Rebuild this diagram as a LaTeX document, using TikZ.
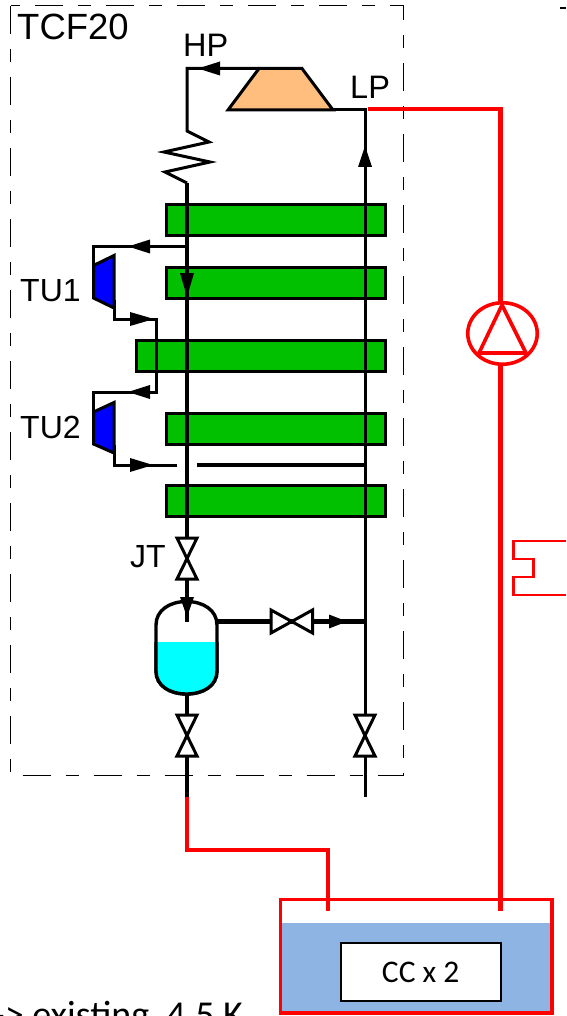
\documentclass[tikz,border=0pt]{standalone}
\usepackage{fontspec}
\setmainfont{Liberation Sans}
\newfontfamily\calib{Carlito}
\usetikzlibrary{arrows.meta,shapes.geometric}
\definecolor{hxgreen}{HTML}{00C000}
\definecolor{compfill}{HTML}{FFBE7D}
\definecolor{bath}{HTML}{8EB4E3}
\definecolor{pipered}{HTML}{FF0000}
\definecolor{liquid}{HTML}{00FFFF}
\definecolor{turbblue}{HTML}{0000FF}
\tikzset{
  x=1pt,y=-1pt,
  hx/.style={draw=black,line width=3pt,fill=hxgreen,outer sep=0pt,inner sep=0pt,anchor=north west,minimum height=31pt,minimum width=218.5pt},
  thin pipe/.style={draw=black,line width=3pt},
  thick pipe/.style={draw=black,line width=4.6pt},
  red pipe/.style={draw=pipered,line width=4.6pt},
  red thin/.style={draw=pipered,line width=3.6pt},
  valve/.style={draw=black,line width=3pt,fill=white,line join=miter},
  turbine/.style={draw=black,line width=3pt,fill=turbblue,line join=miter},
  head/.style={fill=black,draw=none},
  lbl/.style={inner sep=0pt,text=black},
}
\newcommand{\bowV}[2]{\draw[valve] (#1-10,#2-21) -- (#1+10,#2-21) -- (#1-10,#2+20) -- (#1+10,#2+20) -- cycle;}
\newcommand{\vesselpath}{(156,625) .. controls (156,610) and (170,601.5) .. (186.5,601.5) .. controls (203,601.5) and (217,610) .. (217,625) -- (217,671) .. controls (217,686) and (203,694) .. (186.5,694) .. controls (170,694) and (156,686) .. (156,671) -- cycle}
\begin{document}
\begin{tikzpicture}
\useasboundingbox (0,0) rectangle (566,1016);
\clip (0,0) rectangle (566,1016);
% frame
\draw[black,line width=1pt,dash pattern=on 28pt off 15pt on 13pt off 15pt] (10.5,6) rectangle (403.5,775);
% tank
\fill[bath] (280,923) rectangle (552,1013);
\draw[red thin] (280.5,899.5) rectangle (552,1013);
\node[draw=black,line width=2pt,fill=white,minimum width=160pt,minimum height=58pt,inner sep=0pt,outer sep=0pt,font=\calib\fontsize{31.5}{31.5}\selectfont] (cc) at (420.7,972) {CC x 2};
% named points
\coordinate (lpend) at (365,797);
\coordinate (lptop) at (365,110);
\coordinate (compbr) at (333,110);
\coordinate (hpc) at (187,68.5);
\coordinate (comptl) at (259,68.5);
% bars
\node[hx] (b1) at (166.5,204.5) {};
\node[hx] (b2) at (166.5,267.5) {};
\node[hx,minimum width=249pt] (b3) at (136,340.5) {};
\node[hx] (b4) at (166.5,413.5) {};
\node[hx] (b5) at (166.5,485.5) {};
% pipes
\draw[thin pipe] (compbr) -- (lptop) -- (lpend);
\draw[thin pipe,line join=miter,miter limit=6] (comptl) -- (hpc) -- (187,131) -- (209,142) -- (164,152) -- (210,162) -- (165,172) -- (187,183);
\draw[thick pipe] (187,183) -- (187,797);
\draw[thin pipe] (187,246.5) -- (93,246.5) -- (93,275);
\draw[thin pipe] (114,300) -- (114,319) -- (156,319) -- (156,392) -- (93,392) -- (93,420);
\draw[thin pipe] (114,445) -- (114,465) -- (177,465);
\draw[thick pipe] (197,465) -- (365,465);
\draw[thick pipe] (218,621.5) -- (365,621.5);
% compressor
\draw[draw=black,line width=3pt,fill=compfill,line join=miter] (259,68.5) -- (302,68.5) -- (333,110) -- (228,110) -- cycle;
% turbines
\draw[turbine] (93.5,265.5) -- (114,255.5) -- (114,308) -- (93.5,298) -- cycle;
\draw[turbine] (93.5,412) -- (114,402.5) -- (114,453) -- (93.5,444) -- cycle;
% vessel
\draw[black,line width=3.4pt,fill=white] \vesselpath;
\begin{scope}
\clip (150,642) rectangle (225,700);
\draw[black,line width=3.4pt,fill=liquid] \vesselpath;
\end{scope}
\draw[thick pipe] (187,600) -- (187,622);
% valves
\bowV{187}{559}
\bowV{187}{736}
\bowV{365}{736}
\draw[valve] (271,610) -- (271,633) -- (312.5,610) -- (312.5,633) -- cycle;
% arrowheads
\fill[head] (128,246.5) -- (150,239.5) -- (150,253.5) -- cycle;
\fill[head] (198,68.5) -- (220,61.5) -- (220,75.5) -- cycle;
\fill[head] (154,319) -- (130,312) -- (130,326) -- cycle;
\fill[head] (128,392) -- (150,385) -- (150,399) -- cycle;
\fill[head] (153,465) -- (130,458) -- (130,472) -- cycle;
\fill[head] (187,297) -- (180,273) -- (194,273) -- cycle;
\fill[head] (187,617) -- (180,597) -- (194,597) -- cycle;
\fill[head] (347,621.5) -- (329,614.5) -- (329,628.5) -- cycle;
\fill[head] (365,146) -- (358,167) -- (372,167) -- cycle;
% red pipes
\draw[red pipe,line join=miter] (368,109) -- (500.7,109) -- (500.7,302);
\draw[red pipe] (500.7,364) -- (500.7,911);
\draw[red pipe] (187,797) -- (187,850) -- (328,850) -- (328,911);
\node[draw=pipered,line width=3.6pt,ellipse,minimum width=69.5pt,minimum height=61.5pt,inner sep=0pt,outer sep=0pt] (pump) at (502.5,333.5) {};
\draw[red thin,line join=miter] (502,305) -- (479,353) -- (526,353) -- cycle;
\draw[pipered,line width=2.5pt] (566,541) -- (513.5,541) -- (513.5,559) -- (533.5,559) -- (533.5,577) -- (513.5,577) -- (513.5,595) -- (566,595);
% top right dash
\draw[black,line width=1.5pt] (560,8) -- (566,8);
% labels
\node[lbl,anchor=base west,font=\fontsize{36.5}{36.5}\selectfont] (tcf) at (17,40) {TCF20};
\node[lbl,anchor=base west,font=\fontsize{32.5}{32.5}\selectfont] (hp) at (183,57) {HP};
\node[lbl,anchor=base west,font=\fontsize{32.5}{32.5}\selectfont] (lp) at (350,99) {LP};
\node[lbl,anchor=base west,font=\fontsize{32}{32}\selectfont] (tu1) at (20,301) {TU1};
\node[lbl,anchor=base west,font=\fontsize{32}{32}\selectfont] (tu2) at (20,438) {TU2};
\node[lbl,anchor=base west,font=\fontsize{32}{32}\selectfont] (jt) at (130,567) {JT};
\node[lbl,anchor=base west,font=\calib\fontsize{38}{38}\selectfont] (ex) at (-7,1027) {-> existing\ \ 4.5 K};
\end{tikzpicture}
\end{document}
